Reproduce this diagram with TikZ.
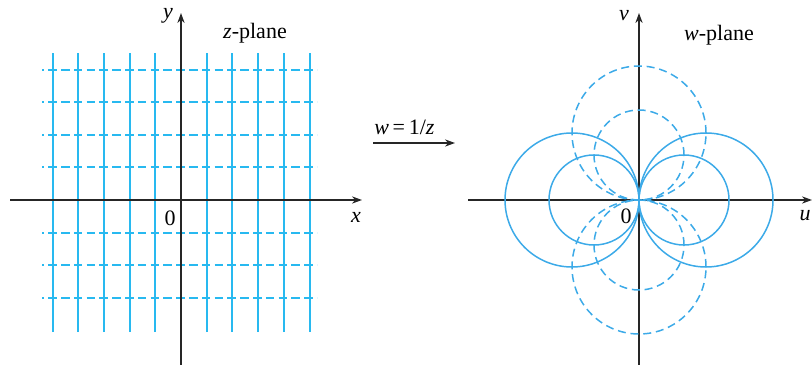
\documentclass[tikz,border=0pt]{standalone}
\usepackage{fontspec}
\setmainfont{Liberation Serif}
\usetikzlibrary{arrows.meta}
\definecolor{gridblue}{RGB}{40,185,240}
\definecolor{circblue}{RGB}{60,170,232}
\tikzset{
  axis/.style={line width=0.65pt, black!85, -{Stealth[length=5pt,width=3.6pt]}},
  zline/.style={gridblue, line width=1pt},
  zdash/.style={gridblue, line width=1pt, dash pattern=on 4.3pt off 2.1pt, dash phase=3.3pt},
  wcirc/.style={circblue, line width=0.75pt},
  wdash/.style={circblue, line width=0.75pt, dash pattern=on 4pt off 2.4pt},
  lbl/.style={font=\fontsize{11}{13}\selectfont, inner sep=1pt}
}
\begin{document}
\begin{tikzpicture}[x=0.5pt,y=0.5pt]
    \useasboundingbox (0,0) rectangle (812,364);

    % z-plane
    \begin{scope}[shift={(181,164)}]
        % Grid
        \foreach \k in {-5,-4,-3,-2,-1,1,2,3,4,5}
            \draw[zline] (\k*25.7,-132) -- (\k*25.7,147);
        \foreach \k in {-3,-2,-1,1,2,3,4}
            \draw[zdash] (-139,\k*32.6) -- (136,\k*32.6);

        % Axes
        \coordinate (zW) at (-171,0);
        \coordinate (zE) at (181,0);
        \coordinate (zS) at (0,-165);
        \coordinate (zN) at (0,187);
        \draw[axis] (zW) -- (zE);
        \draw[axis] (zS) -- (zN);
        \node[lbl] (zx) at (175,-17) {\textit{x}};
        \node[lbl] (zy) at (-13,184) {\textit{y}};
        \node[lbl] (zO) at (-11,-18) {0};
        \node[lbl] (zname) at (74,167) {\textit{z}-plane};
    \end{scope}

    % Mapping
    \coordinate (mapL) at (373,221);
    \coordinate (mapR) at (455,221);
    \draw[axis] (mapL) -- (mapR);
    \node[lbl, anchor=south west] (maptext) at (372,227) {\textit{w}\,=\,1/\textit{z}};

    % w-plane
    \begin{scope}[shift={(639,164)}]
        % Axes
        \coordinate (wW) at (-171,0);
        \coordinate (wE) at (173,0);
        \coordinate (wS) at (0,-165);
        \coordinate (wN) at (0,187);
        \draw[axis] (wW) -- (wE);
        \draw[axis] (wS) -- (wN);
        \node[lbl] (wu) at (166,-16) {\textit{u}};
        \node[lbl] (wv) at (-15,184) {\textit{v}};
        \node[lbl] (wO) at (-13,-16) {0};
        \node[lbl] (wname) at (80,165) {\textit{w}-plane};

        % Images of the lines
        \foreach \r in {45,67} {
            \draw[wcirc] (\r,0) circle (\r);
            \draw[wcirc] (-\r,0) circle (\r);
            \draw[wdash] (0,\r) circle (\r);
            \draw[wdash] (0,-\r) circle (\r);
        }
    \end{scope}

\end{tikzpicture}
\end{document}
